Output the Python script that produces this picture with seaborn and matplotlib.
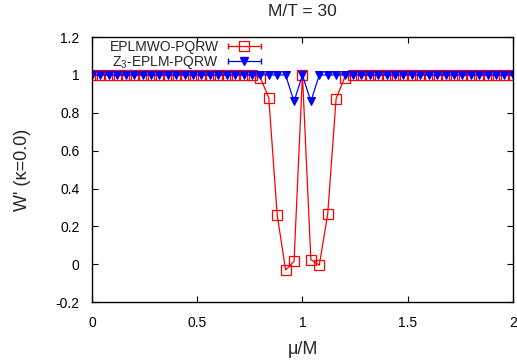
import numpy as np
import pandas as pd
import matplotlib
matplotlib.use("Agg")
import matplotlib.pyplot as plt
import seaborn as sns
from matplotlib.lines import Line2D
from matplotlib.legend_handler import HandlerLine2D, HandlerTuple

mu = [round(0.04 * i, 2) for i in range(51)]
w_eplmwo = ([1.0] * 20 +
            [0.985, 0.88, 0.26, -0.03, 0.015, 1.0, 0.025, -0.005, 0.265, 0.875, 0.985] +
            [1.0] * 20)
w_z3 = [1.0] * 24 + [0.86, 1.0, 0.86] + [1.0] * 24
labels = ["EPLMWO-PQRW", "Z$_3$-EPLM-PQRW"]
title = "M/T = 30"
xticks = [0, 0.5, 1, 1.5, 2]
yticks = [-0.2, 0, 0.2, 0.4, 0.6, 0.8, 1.0, 1.2]

sns.set_style("ticks")
plt.rcParams["font.family"] = ["Liberation Sans", "DejaVu Sans"]
plt.rcParams["font.size"] = 10
plt.rcParams["mathtext.fontset"] = "custom"
plt.rcParams["mathtext.rm"] = "Liberation Sans"

fig = plt.figure(figsize=(5.17, 3.64), dpi=100)
ax = fig.add_axes([0.178, 0.170, 0.814, 0.728])

red = "#ff0000"
blue = "#0000ff"
df1 = pd.DataFrame({"mu": mu, "w": w_eplmwo})
df2 = pd.DataFrame({"mu": mu, "w": w_z3})
sns.lineplot(data=df1, x="mu", y="w", ax=ax, color=red, lw=0.9, marker="s",
             markersize=7.5, markerfacecolor="none", markeredgecolor=red,
             markeredgewidth=0.9)
sns.lineplot(data=df2, x="mu", y="w", ax=ax, color=blue, lw=0.9, marker="v",
             markersize=5.5, markerfacecolor=blue, markeredgecolor=blue)

ax.set_xlim(0, 2)
ax.set_ylim(-0.2, 1.2)
ax.set_xticks(xticks)
ax.set_xticklabels(["0", "0.5", "1", "1.5", "2"])
ax.set_yticks(yticks)
ax.set_yticklabels(["-0.2", "0", "0.2", "0.4", "0.6", "0.8", "1", "1.2"])
ax.tick_params(axis="x", pad=10)
ax.tick_params(axis="y", pad=9)
ax.tick_params(direction="in", top=True, right=True, length=4, width=0.8,
               labelsize=10, colors="black")
for s in ax.spines.values():
    s.set_linewidth(1.0)
    s.set_color("black")
ax.set_xlabel("\u03bc/M", fontsize=13, labelpad=8)
ax.set_ylabel("W' (\u03ba=0.0)", fontsize=13, labelpad=18)
ax.set_title(title, fontsize=12.5, pad=15)

caps_r = Line2D([], [], color=red, lw=0.9, marker="|", markersize=5)
mk_r = Line2D([], [], color=red, ls="none", marker="s", markersize=7.5,
              markerfacecolor="none", markeredgewidth=0.9)
caps_b = Line2D([], [], color=blue, lw=0.9, marker="|", markersize=5)
mk_b = Line2D([], [], color=blue, ls="none", marker="v", markersize=5.5)
leg = ax.legend([(caps_r, mk_r), (caps_b, mk_b)], labels,
                handler_map={caps_r: HandlerLine2D(numpoints=2),
                             caps_b: HandlerLine2D(numpoints=2),
                             tuple: HandlerTuple(ndivide=1, pad=0)},
                loc="upper right", bbox_to_anchor=(0.418, 1.0), frameon=False,
                markerfirst=False, handlelength=3.0, labelspacing=0.0,
                borderaxespad=0.0, borderpad=0.2, handletextpad=0.35,
                fontsize=10, numpoints=1)
for t in leg.get_texts():
    t.set_ha("right")
leg._legend_box.align = "right"

fig.savefig("out.png", dpi=100)
